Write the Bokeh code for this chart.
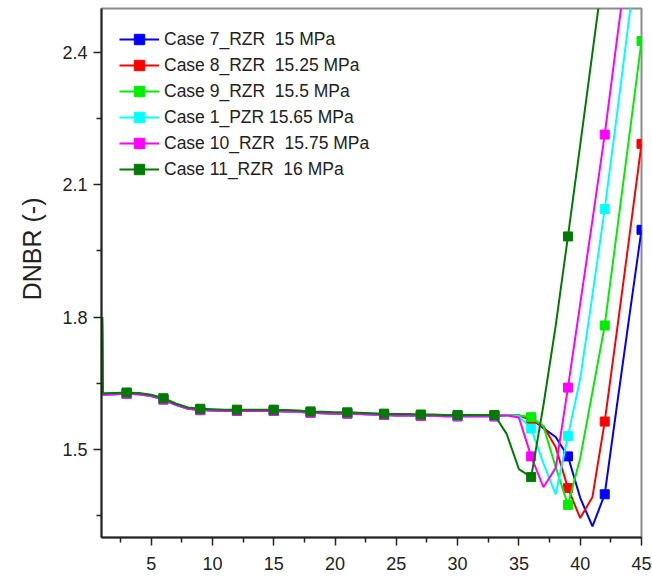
from bokeh.plotting import figure
from bokeh.models import Range1d, FixedTicker, Legend, LegendItem, Title
from bokeh.embed import file_html
from bokeh.resources import INLINE

# x positions (node index); a doubled start point gives the initial vertical jump
x = [1, 1.05] + list(range(2, 46))

base = [1.800, 1.627, 1.628, 1.629, 1.628, 1.624, 1.616, 1.604, 1.595, 1.592, 1.591,
        1.590, 1.590, 1.590, 1.590, 1.590, 1.589, 1.588, 1.586, 1.585, 1.584,
        1.584, 1.583, 1.582, 1.581, 1.580, 1.580, 1.579, 1.579, 1.578, 1.578,
        1.578, 1.578, 1.578]  # x = 1 .. 33

case7_tail  = [1.578, 1.577, 1.570, 1.548, 1.528, 1.484, 1.390, 1.325, 1.398, 1.600, 1.800, 1.998]
case8_tail  = [1.578, 1.577, 1.566, 1.553, 1.505, 1.412, 1.344, 1.392, 1.563, 1.770, 1.980, 2.193]
case9_tail  = [1.578, 1.577, 1.573, 1.552, 1.460, 1.374, 1.480, 1.630, 1.781, 1.995, 2.210, 2.426]
case1_tail  = [1.577, 1.575, 1.547, 1.468, 1.398, 1.530, 1.660, 1.850, 2.045, 2.260, 2.480, 2.700]
case10_tail = [1.577, 1.572, 1.484, 1.414, 1.458, 1.640, 1.830, 2.020, 2.214, 2.430, 2.640, 2.860]
case11_tail = [1.535, 1.455, 1.437, 1.600, 1.780, 1.983, 2.190, 2.400, 2.610, 2.820, 3.030, 3.240]

labels = ["Case 7_RZR  15 MPa", "Case 8_RZR  15.25 MPa", "Case 9_RZR  15.5 MPa",
          "Case 1_PZR 15.65 MPa", "Case 10_RZR  15.75 MPa", "Case 11_RZR  16 MPa"]
colors = ["#0000ff", "#ff0000", "#00ee00", "#00ffff", "#ff00ff", "#007a00"]
tails = [case7_tail, case8_tail, case9_tail, case1_tail, case10_tail, case11_tail]
offsets = [-0.003, -0.002, -0.002, -0.003, -0.003, 0.0]

marker_x = list(range(3, 46, 3))
x_ticks = [5, 10, 15, 20, 25, 30, 35, 40, 45]
x_minor = [2.5, 7.5, 12.5, 17.5, 22.5, 27.5, 32.5, 37.5, 42.5]
y_ticks = [1.5, 1.8, 2.1, 2.4]
y_minor = [1.35, 1.65, 1.95, 2.25]

FONT = "Liberation Sans"

p = figure(width=652, height=577, output_backend="svg", toolbar_location=None,
           x_range=Range1d(0.95, 45), y_range=Range1d(1.30, 2.5),
           min_border_left=101, min_border_right=11, min_border_top=8, min_border_bottom=40)
p.background_fill_color = "white"
p.border_fill_color = "white"
p.outline_line_color = "#8a8a8a"
p.outline_line_width = 2
p.xgrid.visible = False
p.ygrid.visible = False

for ax in (p.xaxis[0], p.yaxis[0]):
    ax.axis_line_color = "#222222"
    ax.axis_line_width = 2
    ax.major_tick_line_color = "#222222"
    ax.minor_tick_line_color = "#222222"
    ax.major_tick_line_width = 1.5
    ax.minor_tick_line_width = 1.5
    ax.major_tick_in = 0
    ax.major_tick_out = 8
    ax.minor_tick_in = 0
    ax.minor_tick_out = 5
    ax.major_label_text_font = FONT
    ax.major_label_text_font_size = "18px"
    ax.major_label_text_color = "#222222"

p.xaxis[0].ticker = FixedTicker(ticks=x_ticks, minor_ticks=x_minor)
p.yaxis[0].ticker = FixedTicker(ticks=y_ticks, minor_ticks=y_minor)
p.xaxis[0].major_label_standoff = 11
p.yaxis[0].major_label_standoff = 6

items = []
for lab, col, tail, off in zip(labels, colors, tails, offsets):
    ys = [v + off for v in base] + tail
    ys = [base[0]] + ys[1:]
    r = p.line(x, ys, line_color=col, line_width=2)
    mx = marker_x
    my = [ys[x.index(m)] for m in mx]
    s = p.scatter(mx, my, marker="square", size=9, fill_color=col, line_color=col)
    items.append(LegendItem(label=lab, renderers=[r, s]))

legend = Legend(items=items, location="top_left")
legend.border_line_color = None
legend.background_fill_alpha = 0
legend.margin = 18
legend.padding = 6
legend.glyph_width = 40
legend.glyph_height = 26
legend.label_height = 26
legend.spacing = 0
legend.label_standoff = 5
legend.label_text_font = FONT
legend.label_text_font_size = "17.5px"
legend.label_text_color = "#222222"
p.add_layout(legend)

ytitle = Title(text="DNBR (-)", align="right", offset=189, standoff=24,
               vertical_align="top",
               text_font=FONT, text_font_size="25px", text_font_style="normal",
               text_color="#222222")
p.add_layout(ytitle, "left")

open("out.html", "w").write(file_html(p, INLINE))
